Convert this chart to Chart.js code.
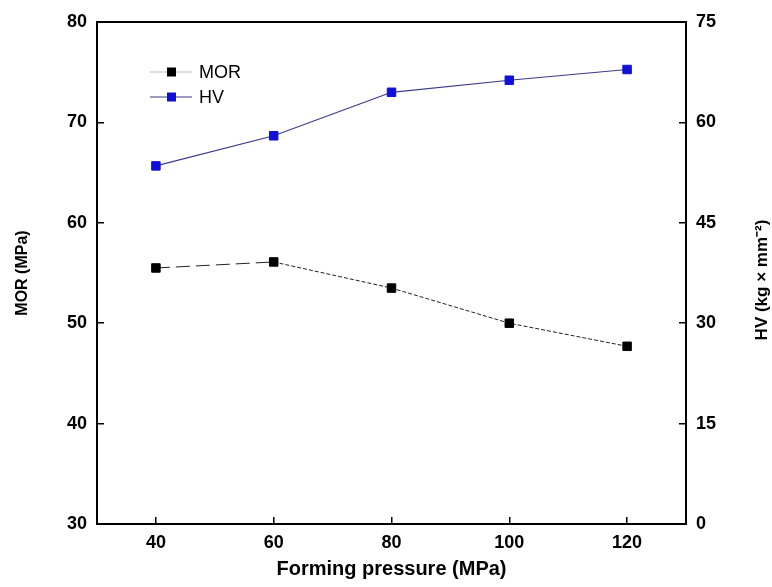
<!DOCTYPE html>
<html>
<head>
<meta charset="utf-8">
<script src="https://cdn.jsdelivr.net/npm/chart.js@4/dist/chart.umd.min.js"></script>
<style>
  body { margin: 0; background: #fff; }
  #wrap { width: 772px; height: 587px; }
</style>
</head>
<body>
<div id="wrap"><canvas id="mor-hv-chart" width="772" height="587"></canvas></div>
<script>
// values
const pressure = [40, 60, 80, 100, 120];
const morValues = [55.5, 56.1, 53.5, 50.0, 47.7];
const hvValues = [53.5, 58.0, 64.5, 66.3, 67.9];
const xTicks = [40, 60, 80, 100, 120];
const morTicks = [30, 40, 50, 60, 70, 80];
const hvTicks = [0, 15, 30, 45, 60, 75];
const seriesNames = ["MOR", "HV"];

Chart.defaults.font.family = "'Liberation Sans', Arial, sans-serif";
Chart.defaults.color = "#000";

const tickFont = { size: 18, weight: "bold" };
const axisGrid = { display: true, drawOnChartArea: false, drawTicks: true, tickLength: -7, color: "#000", lineWidth: 1.5 };
const axisBorder = { display: true, color: "#000", width: 2 };

// fixed axis sizes so the plot box sits where it does in the figure
const fixY = (w) => (s) => { s.width = w; s.paddingTop = 0; s.paddingBottom = 0; };

// legend inside the plot + frame + right title (rotated the other way than chart.js does)
const extras = {
  id: "extras",
  afterDraw(chart) {
    const ctx = chart.ctx;
    const area = chart.chartArea;
    ctx.save();
    ctx.strokeStyle = "#000";
    ctx.lineWidth = 2;
    ctx.strokeRect(area.left, area.top, area.right - area.left, area.bottom - area.top);

    // legend
    const rows = [
      { y: 72, line: "#bdbdbd", fill: "#000" },
      { y: 97, line: "#3a3a8c", fill: "#1010d8" },
    ];
    ctx.font = "18px 'Liberation Sans', Arial, sans-serif";
    ctx.textBaseline = "middle";
    rows.forEach((r, i) => {
      ctx.strokeStyle = r.line;
      ctx.lineWidth = 1.2;
      ctx.beginPath();
      ctx.moveTo(150, r.y);
      ctx.lineTo(192, r.y);
      ctx.stroke();
      ctx.fillStyle = r.fill;
      ctx.fillRect(167, r.y - 4.5, 9, 9);
      ctx.fillStyle = "#000";
      ctx.fillText(seriesNames[i], 199, r.y + 1);
    });

    // right axis title
    ctx.translate(762, 280);
    ctx.rotate(-Math.PI / 2);
    ctx.font = "bold 17px 'Liberation Sans', Arial, sans-serif";
    ctx.textAlign = "center";
    ctx.fillText("HV (kg \u00d7 mm\u207b\u00b2)", 0, 0);
    ctx.restore();
  },
};

const ctx = document.getElementById("mor-hv-chart").getContext("2d");

new Chart(ctx, {
  type: "line",
  data: {
    datasets: [
      {
        label: seriesNames[0],
        data: pressure.map((p, i) => ({ x: p, y: morValues[i] })),
        yAxisID: "y",
        borderColor: "#222",
        borderWidth: 1,
        segment: {
          borderDash: (c) => (c.p0DataIndex === 0 ? [14, 6] : [4, 2]),
        },
        pointStyle: "rect",
        pointRadius: 6,
        pointBorderWidth: 1,
        pointBackgroundColor: "#000",
        pointBorderColor: "#000",
      },
      {
        label: seriesNames[1],
        data: pressure.map((p, i) => ({ x: p, y: hvValues[i] })),
        yAxisID: "y1",
        borderColor: "#3a3a8c",
        borderWidth: 1.2,
        pointStyle: "rect",
        pointRadius: 6,
        pointBorderWidth: 1,
        pointBackgroundColor: "#1010d8",
        pointBorderColor: "#1010d8",
      },
    ],
  },
  options: {
    responsive: false,
    animation: false,
    layout: { padding: { top: 22, left: 0, right: 0, bottom: 0 } },
    plugins: { legend: { display: false }, tooltip: { enabled: false } },
    scales: {
      x: {
        type: "linear",
        position: "bottom",
        min: 30,
        max: 130,
        afterBuildTicks: (s) => { s.ticks = xTicks.map((v) => ({ value: v })); },
        afterFit: (s) => { s.height = 63; s.paddingLeft = 0; s.paddingRight = 0; },
        ticks: { font: tickFont, padding: 15, maxRotation: 0 },
        grid: axisGrid,
        border: axisBorder,
        title: {
          display: true,
          text: "Forming pressure (MPa)",
          font: { size: 20, weight: "bold" },
          padding: { top: 0, bottom: 6 },
        },
      },
      y: {
        type: "linear",
        position: "left",
        min: 30,
        max: 80,
        afterBuildTicks: (s) => { s.ticks = morTicks.map((v) => ({ value: v })); },
        afterFit: fixY(97),
        ticks: { font: tickFont, padding: 17 },
        grid: axisGrid,
        border: axisBorder,
        title: {
          display: true,
          text: "MOR (MPa)",
          font: { size: 16, weight: "bold" },
          padding: { top: 13, bottom: 0 },
        },
      },
      y1: {
        type: "linear",
        position: "right",
        min: 0,
        max: 75,
        afterBuildTicks: (s) => { s.ticks = hvTicks.map((v) => ({ value: v })); },
        afterFit: fixY(86),
        ticks: { font: tickFont, padding: 17 },
        grid: axisGrid,
        border: axisBorder,
      },
    },
  },
  plugins: [extras],
});
</script>
</body>
</html>
